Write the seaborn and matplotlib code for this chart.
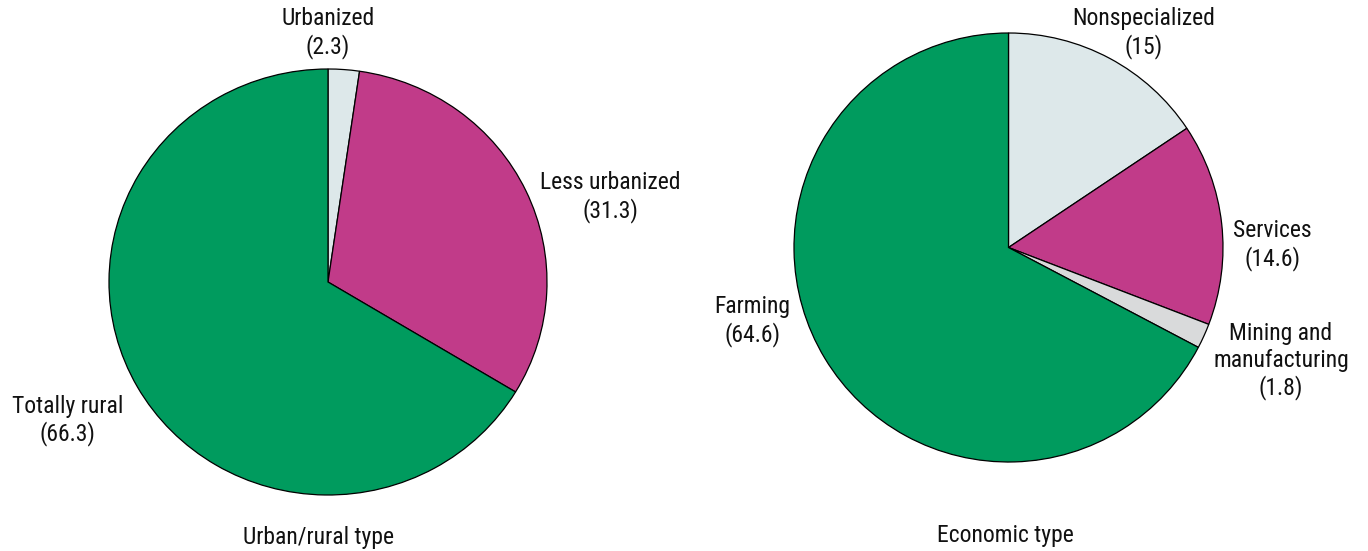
import matplotlib
matplotlib.use("Agg")
import matplotlib.pyplot as plt
import seaborn as sns
from matplotlib import font_manager

sns.set_theme(style="white")

names = {f.name for f in font_manager.fontManager.ttflist}
fam = [f for f in ["Liberation Sans Narrow", "Roboto Condensed", "Roboto", "DejaVu Sans"] if f in names]
plt.rcParams['font.family'] = fam

# Data
urban_labels = ["Urbanized", "Less urbanized", "Totally rural"]
urban_values = [2.3, 31.3, 66.3]
econ_labels = ["Nonspecialized", "Services", "Mining and\nmanufacturing", "Farming"]
econ_values = [15, 14.6, 1.8, 64.6]

urban_colors = ["#DDE8EA", "#C13B89", "#009B5E"]
econ_colors = ["#DDE8EA", "#C13B89", "#D9DADB", "#009B5E"]

W, H = 1368, 551
fig = plt.figure(figsize=(W / 100, H / 100), dpi=100)

def make_ax(cx, cy, rx, ry):
    return fig.add_axes([(cx - rx) / W, (H - cy - ry) / H, 2 * rx / W, 2 * ry / H])

wedge = dict(edgecolor="black", linewidth=0.9)
fs = 17

ax1 = make_ax(328, 282, 219, 213)
ax1.pie(urban_values, colors=urban_colors, startangle=90, counterclock=False,
        wedgeprops=wedge, radius=1)
ax1.set_aspect("auto")
ax1.set_xlim(-1, 1); ax1.set_ylim(-1, 1); ax1.axis("off")
pos1 = [(0.0, 1.17), (1.29, 0.40), (-1.19, -0.65)]
for lab, v, (x, y) in zip(urban_labels, urban_values, pos1):
    ax1.text(x, y, f"{lab}\n({v:g})", ha="center", va="center", fontsize=fs,
             linespacing=1.2, color="#111111")
ax1.text(-0.045, -1.20, "Urban/rural type", ha="center", va="center", fontsize=fs, color="#111111")

ax2 = make_ax(1008.5, 247.5, 214.5, 214.5)
ax2.pie(econ_values, colors=econ_colors, startangle=90, counterclock=False,
        wedgeprops=wedge, radius=1)
ax2.set_aspect("auto")
ax2.set_xlim(-1, 1); ax2.set_ylim(-1, 1); ax2.axis("off")
pos2 = [(0.63, 1.0), (1.23, 0.01), (1.27, -0.53), (-1.195, -0.344)]
for lab, v, (x, y) in zip(econ_labels, econ_values, pos2):
    ax2.text(x, y, f"{lab}\n({v:g})", ha="center", va="center", fontsize=fs,
             linespacing=1.2, color="#111111")
ax2.text(-0.014, -1.344, "Economic type", ha="center", va="center", fontsize=fs, color="#111111")

fig.savefig("out.png", dpi=100, facecolor="white")
